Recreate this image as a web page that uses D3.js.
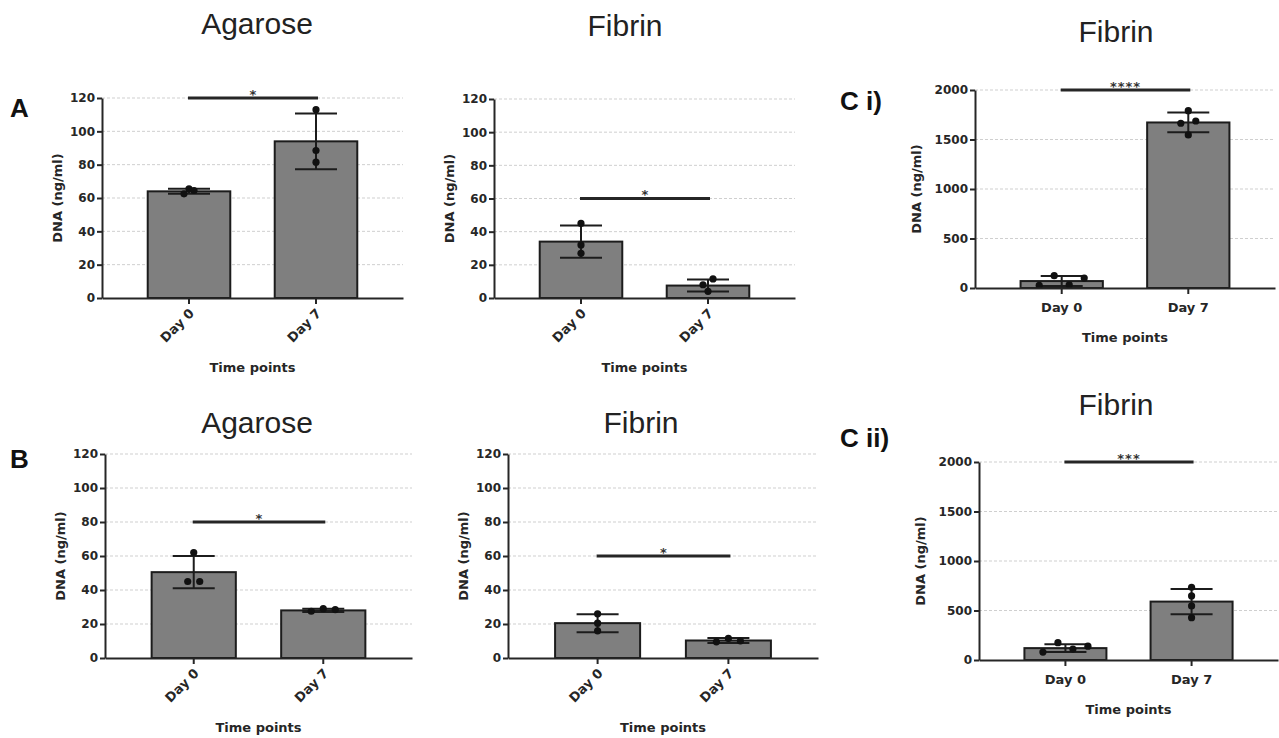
<!DOCTYPE html>
<html>
<head>
<meta charset="utf-8">
<style>
  body { margin: 0; background: #fff; }
  svg { display: block; }
  .tick text { font-family: "DejaVu Sans", sans-serif; font-weight: bold; fill: #262626; }
  .axis path, .axis line { stroke: #262626; stroke-width: 2; }
  .grid line { stroke: #cfcfcf; stroke-width: 1; stroke-dasharray: 3,2; }
</style>
</head>
<body>
<svg id="fig" width="1279" height="738"></svg>
<script src="https://cdn.jsdelivr.net/npm/d3@7"></script>
<script>
// categories and tick labels
var categories = ["Day 0", "Day 7"];
var ticksSmall = [0, 20, 40, 60, 80, 100, 120];
var ticksLarge = [0, 500, 1000, 1500, 2000];

// A - agarose
var agaroseAMean = [64, 94];
var agaroseASd = [1.5, 16.7];
var agaroseAPoints = [[62.5, 65.5, 64.5], [113, 88.5, 81.5]];
// A - fibrin
var fibrinAMean = [34, 7.5];
var fibrinASd = [9.7, 3.6];
var fibrinAPoints = [[45, 32, 27], [8, 4, 11.5]];
// B - agarose
var agaroseBMean = [50.5, 28];
var agaroseBSd = [9.5, 1];
var agaroseBPoints = [[45, 62, 45], [27.5, 29, 28.5]];
// B - fibrin
var fibrinBMean = [20.5, 10.3];
var fibrinBSd = [5.3, 1.5];
var fibrinBPoints = [[26, 20.5, 16], [9.5, 11.5, 10]];
// C i) fibrin
var fibrinCiMean = [70, 1672];
var fibrinCiSd = [50, 100];
var fibrinCiPoints = [[26, 124, 33, 100], [1791, 1664, 1687, 1546]];
// C ii) fibrin
var fibrinCiiMean = [120, 590];
var fibrinCiiSd = [40, 128];
var fibrinCiiPoints = [[80, 175, 110, 140], [735, 647, 546, 428]];

var svg = d3.select("#fig");

// spread points sideways only when they overlap vertically
function dodge(ys, step) {
    var idx = ys.map(function(v, i) { return i; }).sort(function(a, b) { return ys[a] - ys[b]; });
    var groups = [], cur = [];
    idx.forEach(function(i, k) {
        if (k > 0 && ys[i] - ys[idx[k - 1]] > 7.5) { groups.push(cur); cur = []; }
        cur.push(i);
    });
    groups.push(cur);
    var off = ys.map(function() { return 0; });
    groups.forEach(function(gr) {
        gr.sort(function(a, b) { return a - b; });
        gr.forEach(function(i, j) { off[i] = (j - (gr.length - 1) / 2) * step; });
    });
    return off;
}

function drawPanel(p) {
    var g = svg.append("g");

    var x = d3.scaleBand()
        .domain(categories)
        .range([p.x0, p.x1])
        .paddingInner(0.35)
        .paddingOuter(0.36);

    var y = d3.scaleLinear()
        .domain([0, p.ticks[p.ticks.length - 1]])
        .range([p.bottom, p.top]);

    var bw = x.bandwidth();

    // grid
    g.append("g").attr("class", "grid")
        .selectAll("line")
        .data(p.ticks.slice(1))
        .enter().append("line")
        .attr("x1", p.x0).attr("x2", p.x1)
        .attr("y1", function(d) { return y(d); })
        .attr("y2", function(d) { return y(d); });

    // bars
    g.selectAll(".bar")
        .data(categories)
        .enter().append("rect")
        .attr("x", function(d) { return x(d); })
        .attr("y", function(d, i) { return y(p.mean[i]); })
        .attr("width", bw)
        .attr("height", function(d, i) { return p.bottom - y(p.mean[i]); })
        .attr("fill", "#7f7f7f")
        .attr("stroke", "#1c1c1c")
        .attr("stroke-width", 2);

    // error bars + points
    categories.forEach(function(c, i) {
        var cx = x(c) + bw / 2,
            hi = y(p.mean[i] + p.sd[i]),
            lo = y(Math.max(0, p.mean[i] - p.sd[i]));
        g.append("line").attr("x1", cx).attr("x2", cx).attr("y1", hi).attr("y2", lo)
            .attr("stroke", "#1c1c1c").attr("stroke-width", 2);
        [hi, lo].forEach(function(yy) {
            g.append("line").attr("x1", cx - 21).attr("x2", cx + 21).attr("y1", yy).attr("y2", yy)
                .attr("stroke", "#1c1c1c").attr("stroke-width", 2);
        });

        var ys = p.points[i].map(function(v) { return y(v); });
        var offs = dodge(ys, p.dodge);
        g.selectAll(null)
            .data(ys)
            .enter().append("circle")
            .attr("cx", function(d, k) { return cx + offs[k]; })
            .attr("cy", function(d) { return d; })
            .attr("r", 3.6)
            .attr("fill", "#111");
    });

    // y axis
    var ya = g.append("g").attr("class", "axis")
        .attr("transform", "translate(" + p.x0 + ",0)")
        .call(d3.axisLeft(y).tickValues(p.ticks).tickFormat(d3.format("d"))
            .tickSize(5).tickSizeOuter(0).tickPadding(2));
    ya.selectAll("text").style("font-size", "12px");

    // x axis
    var xa = g.append("g").attr("class", "axis")
        .attr("transform", "translate(0," + p.bottom + ")")
        .call(d3.axisBottom(x).tickSize(6).tickSizeOuter(0).tickPadding(9));
    xa.selectAll("text").style("font-size", "13px");
    if (p.rotate) {
        xa.selectAll("text")
            .attr("x", 0).attr("y", 0).attr("dy", 0)
            .attr("text-anchor", "end")
            .attr("transform", "translate(6,16) rotate(-45)");
    }

    // significance bar
    var sx1 = x(categories[0]) + bw / 2 - 1,
        sx2 = x(categories[1]) + bw / 2 + 2,
        sy = y(p.sig);
    g.append("line").attr("x1", sx1).attr("x2", sx2).attr("y1", sy).attr("y2", sy)
        .attr("stroke", "#262626").attr("stroke-width", 3);
    g.append("text")
        .attr("x", (sx1 + sx2) / 2).attr("y", sy + 0.5)
        .attr("text-anchor", "middle")
        .attr("font-family", "DejaVu Sans, sans-serif")
        .attr("font-weight", "bold")
        .attr("font-size", 13)
        .attr("letter-spacing", p.sigText.length > 1 ? 1 : 0)
        .attr("fill", "#333")
        .text(p.sigText);

    // axis titles
    g.append("text")
        .attr("x", (p.x0 + p.x1) / 2)
        .attr("y", p.bottom + (p.rotate ? 74 : 54))
        .attr("text-anchor", "middle")
        .attr("font-family", "DejaVu Sans, sans-serif").attr("font-weight", "bold")
        .attr("font-size", 13).attr("fill", "#262626")
        .text("Time points");

    g.append("text")
        .attr("transform", "translate(" + (p.x0 - p.yLabelOff) + "," + (p.top + p.bottom) / 2 + ") rotate(-90)")
        .attr("text-anchor", "middle")
        .attr("font-family", "DejaVu Sans, sans-serif").attr("font-weight", "bold")
        .attr("font-size", 13).attr("fill", "#262626")
        .text("DNA (ng/ml)");

    // panel title
    g.append("text")
        .attr("x", p.titleX).attr("y", p.titleY)
        .attr("text-anchor", "middle")
        .attr("font-family", "Liberation Sans, Arial, sans-serif")
        .attr("font-size", 30).attr("fill", "#222")
        .text(p.title);

    if (p.label) {
        g.append("text")
            .attr("x", p.labelX).attr("y", p.labelY)
            .attr("font-family", "Liberation Sans, Arial, sans-serif")
            .attr("font-weight", "bold")
            .attr("font-size", 26).attr("fill", "#111")
            .text(p.label);
    }
}

drawPanel({x0: 102, x1: 403, top: 98, bottom: 298, ticks: ticksSmall, rotate: true, yLabelOff: 40, dodge: 5,
    mean: agaroseAMean, sd: agaroseASd, points: agaroseAPoints, sig: 120, sigText: "*",
    title: "Agarose", titleX: 257, titleY: 34, label: "A", labelX: 10, labelY: 117});
drawPanel({x0: 494, x1: 795, top: 99, bottom: 298, ticks: ticksSmall, rotate: true, yLabelOff: 40, dodge: 5,
    mean: fibrinAMean, sd: fibrinASd, points: fibrinAPoints, sig: 60, sigText: "*",
    title: "Fibrin", titleX: 625, titleY: 36});
drawPanel({x0: 975, x1: 1275, top: 90, bottom: 288, ticks: ticksLarge, rotate: false, yLabelOff: 54, dodge: 15,
    mean: fibrinCiMean, sd: fibrinCiSd, points: fibrinCiPoints, sig: 2000, sigText: "****",
    title: "Fibrin", titleX: 1116, titleY: 42, label: "C i)", labelX: 840, labelY: 110});
drawPanel({x0: 105, x1: 412, top: 454, bottom: 658, ticks: ticksSmall, rotate: true, yLabelOff: 40, dodge: 12,
    mean: agaroseBMean, sd: agaroseBSd, points: agaroseBPoints, sig: 80, sigText: "*",
    title: "Agarose", titleX: 257, titleY: 433, label: "B", labelX: 10, labelY: 468});
drawPanel({x0: 508, x1: 818, top: 454, bottom: 658, ticks: ticksSmall, rotate: true, yLabelOff: 40, dodge: 12,
    mean: fibrinBMean, sd: fibrinBSd, points: fibrinBPoints, sig: 60, sigText: "*",
    title: "Fibrin", titleX: 641, titleY: 433});
drawPanel({x0: 979, x1: 1278, top: 462, bottom: 660, ticks: ticksLarge, rotate: false, yLabelOff: 54, dodge: 15,
    mean: fibrinCiiMean, sd: fibrinCiiSd, points: fibrinCiiPoints, sig: 2000, sigText: "***",
    title: "Fibrin", titleX: 1116, titleY: 415, label: "C ii)", labelX: 840, labelY: 447});
</script>
</body>
</html>
